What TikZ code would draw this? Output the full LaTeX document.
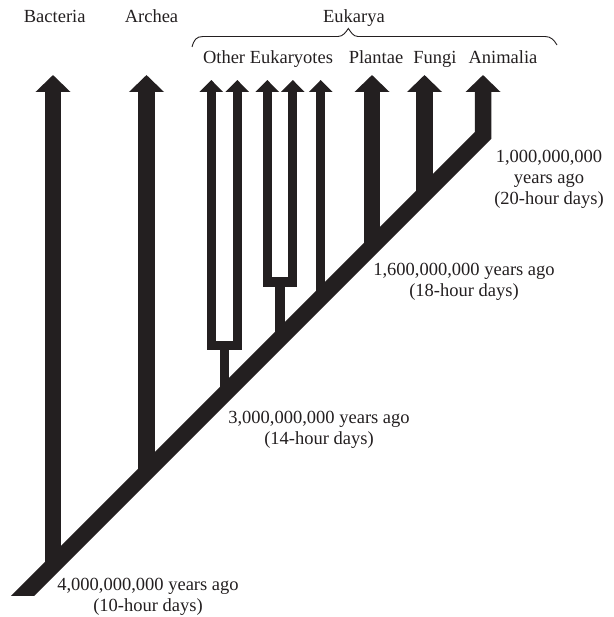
\documentclass[tikz,border=0pt]{standalone}
\usepackage{fontspec}
\setmainfont{Liberation Serif}
\usetikzlibrary{arrows.meta}
\definecolor{ink}{RGB}{35,31,32}
\begin{document}
\begin{tikzpicture}[x=1pt,y=-1pt,
  lineage/.style={draw=ink,line width=16.5pt,line join=miter,
    -{Triangle[width=34pt,length=17pt]}},
  twig/.style={draw=ink,line width=9.3pt,line join=miter},
  twigtip/.style={-{Triangle[width=23pt,length=12pt]}},
  lbl/.style={text=ink,inner sep=0pt,font=\fontsize{18.5}{21}\selectfont},
  date/.style={lbl,align=center,anchor=base}]
\useasboundingbox (0,0) rectangle (613,617);

% main trunk: from the base up to the Animalia branch
\coordinate (root) at (3.5,615);
\coordinate (animalia) at (483,135.5);
\coordinate (animaliaTip) at (483,75);
\begin{scope}
  \clip (0,0) rectangle (613,595);
  \draw[lineage] (root) -- (animalia) -- (animaliaTip);
\end{scope}

% thick branches leaving the trunk
\coordinate (bacteriaBase) at (53,565.5);
\coordinate (bacteriaTip) at (53,75);
\coordinate (archeaBase) at (146.5,472);
\coordinate (archeaTip) at (146.5,75);
\coordinate (plantaeBase) at (372,246.5);
\coordinate (plantaeTip) at (372,75);
\coordinate (fungiBase) at (424.5,194);
\coordinate (fungiTip) at (424.5,75);
\draw[lineage] (bacteriaBase) -- (bacteriaTip);
\draw[lineage] (archeaBase) -- (archeaTip);
\draw[lineage] (plantaeBase) -- (plantaeTip);
\draw[lineage] (fungiBase) -- (fungiTip);

% other eukaryotes: two forks and a single branch
\coordinate (forkAroot) at (224.3,394.2);
\coordinate (forkA) at (224.3,345.3);
\coordinate (forkAl) at (211.3,345.3);
\coordinate (forkAr) at (237.3,345.3);
\coordinate (tipA1) at (211.3,80);
\coordinate (tipA2) at (237.3,80);
\draw[twig] (forkAroot) -- (forkA);
\draw[twig,{Triangle[width=23pt,length=12pt]}-{Triangle[width=23pt,length=12pt]}]
  (tipA1) -- (forkAl) -- (forkAr) -- (tipA2);

\coordinate (forkBroot) at (280,338.5);
\coordinate (forkB) at (280,282);
\coordinate (forkBl) at (267.3,282);
\coordinate (forkBr) at (292.8,282);
\coordinate (tipB1) at (267.3,80);
\coordinate (tipB2) at (292.8,80);
\draw[twig] (forkBroot) -- (forkB);
\draw[twig,{Triangle[width=23pt,length=12pt]}-{Triangle[width=23pt,length=12pt]}]
  (tipB1) -- (forkBl) -- (forkBr) -- (tipB2);

\coordinate (singleBase) at (320.7,297.8);
\coordinate (singleTip) at (320.7,80);
\draw[twig,twigtip] (singleBase) -- (singleTip);

% group labels
\node[lbl,anchor=base] (bacteria) at (54.7,22.3) {Bacteria};
\node[lbl,anchor=base] (archea) at (151.5,22.3) {Archea};
\node[lbl,anchor=base] (eukarya) at (354,22.3) {Eukarya};
\draw[ink,line width=0.9pt] (192,47) .. controls (194,40) and (196,36.5) .. (203,36.5)
  -- (338,36.5) .. controls (343,36.5) and (346,32) .. (348.3,28.5)
  .. controls (351,32) and (353,36.5) .. (358,36.5)
  -- (545,36.5) .. controls (551,36.5) and (554,40) .. (557,45);
\node[lbl,anchor=base] (other) at (268,64) {Other Eukaryotes};
\node[lbl,anchor=base] (plantae) at (376,64) {Plantae};
\node[lbl,anchor=base] (fungi) at (435,64) {Fungi};
\node[lbl,anchor=base] (animaliaLbl) at (503,64) {Animalia};

% dates along the trunk (anchored on the last line)
\node[date] (d4) at (148,611.5) {4,000,000,000 years ago\\(10-hour days)};
\node[date] (d3) at (319,444.3) {3,000,000,000 years ago\\(14-hour days)};
\node[date] (d16) at (464,296.7) {1,600,000,000 years ago\\(18-hour days)};
\node[date] (d1) at (549,205) {1,000,000,000\\years ago\\(20-hour days)};
\end{tikzpicture}
\end{document}
